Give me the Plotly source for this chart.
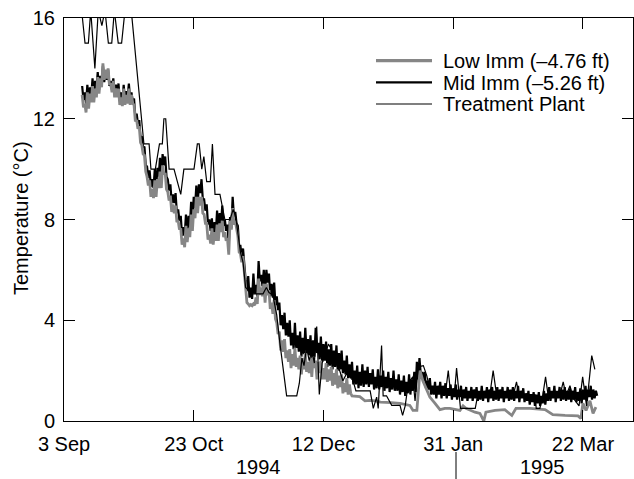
import numpy as np
import pandas as pd
import plotly.graph_objects as go

# ---------------- data ----------------
BASE_DATE = "1994-09-03"          # day 0 of the series offsets below

series_names = ["Low Imm (\u20134.76 ft)", "Mid Imm (\u20135.26 ft)", "Treatment Plant"]

x_tick_days = [0, 50, 100, 150, 200]
x_tick_labels = ["3 Sep", "23 Oct", "12 Dec", "31 Jan", "22 Mar"]
y_tick_vals = [0, 4, 8, 12, 16]
year_labels = ["1994", "1995"]

# Mid Imm: daily high / low readings, starting at day 7 (10 Sep 1994)
mid_first_day = 7
mid_high = [
    13.3, 13.05, 13.35, 13.25, 13.6, 13.5, 13.85, 13.7, 14.1, 13.85,
    13.95, 13.5, 13.6, 13.35, 13.4, 13.05, 13.35, 13.1, 13.4, 13.05,
    12.8, 12.2, 11.95, 11.3, 10.9, 10.1, 9.95, 9.6, 10.0, 10.05,
    10.45, 10.6, 10.5, 9.6, 9.4, 9.0, 9.05, 8.4, 8.15, 7.7,
    8.2, 8.15, 8.7, 8.9, 9.35, 9.4, 9.6, 8.8, 8.6, 8.0,
    8.05, 7.9, 8.35, 8.25, 8.55, 8.0, 7.8, 8.1, 8.9, 8.3,
    7.75, 6.95, 6.85, 5.6, 5.75, 5.3, 5.85, 5.4, 6.35, 5.8,
    6.0, 6.0, 5.85, 5.45, 5.5, 4.95, 4.7, 4.2, 4.3, 3.9,
    4.0, 3.5, 3.9, 3.4, 3.55, 3.3, 3.7, 3.25, 3.4, 3.2,
    3.7, 3.1, 3.35, 3.05, 3.15, 2.85, 3.05, 2.8, 3.0, 2.7,
    2.8, 2.4, 2.6, 2.25, 2.35, 2.0, 2.2, 1.95, 2.25, 2.0,
    2.15, 1.9, 2.05, 1.75, 2.05, 1.8, 2.0, 1.75, 1.95, 1.7,
    2.0, 1.65, 1.85, 1.6, 1.8, 1.55, 1.85, 1.65, 1.95, 2.35,
    2.5, 1.95, 1.95, 1.6, 1.7, 1.4, 1.55, 1.4, 1.55, 1.4,
    1.5, 1.3, 1.45, 1.3, 1.45, 1.25, 1.4, 1.25, 1.35, 1.2,
    1.35, 1.25, 1.35, 1.2, 1.4, 1.2, 1.35, 1.25, 1.35, 1.2,
    1.35, 1.25, 1.35, 1.2, 1.35, 1.25, 1.35, 1.2, 1.4, 1.2,
    1.3, 1.1, 1.2, 1.05, 1.15, 1.05, 1.15, 1.0, 1.2, 1.1,
    1.35, 1.2, 1.4, 1.2, 1.35, 1.25, 1.35, 1.2, 1.3, 1.2,
    1.35, 1.15, 1.3, 1.25, 1.4, 1.25, 1.4, 1.25, 1.2,
]
mid_low = [
    12.75, 12.6, 12.7, 12.9, 12.95, 13.2, 13.15, 13.35, 13.45, 13.55,
    13.3, 13.15, 12.95, 13.0, 12.75, 12.7, 12.7, 12.85, 12.75, 12.7,
    12.05, 11.8, 11.25, 10.85, 10.15, 9.65, 9.3, 9.25, 9.25, 9.7,
    9.7, 10.15, 9.7, 9.15, 8.65, 8.65, 8.25, 7.95, 7.35, 7.35,
    7.45, 7.7, 7.9, 8.45, 8.55, 9.05, 8.8, 8.35, 7.8, 7.55,
    7.25, 7.45, 7.55, 7.8, 7.75, 7.55, 7.0, 7.65, 8.1, 7.85,
    6.95, 6.5, 6.05, 5.15, 4.9, 4.85, 5.05, 4.95, 5.55, 5.35,
    5.1, 5.5, 4.95, 4.9, 4.6, 4.4, 3.8, 3.65, 3.4, 3.35,
    3.0, 2.85, 2.9, 2.75, 2.55, 2.65, 2.7, 2.6, 2.4, 2.55,
    2.7, 2.45, 2.35, 2.4, 2.15, 2.2, 2.05, 2.15, 2.0, 2.05,
    1.9, 1.85, 1.7, 1.7, 1.45, 1.45, 1.3, 1.4, 1.35, 1.45,
    1.35, 1.45, 1.25, 1.3, 1.25, 1.35, 1.2, 1.3, 1.15, 1.25,
    1.2, 1.2, 1.05, 1.15, 1.0, 1.1, 1.05, 1.2, 1.15, 1.65,
    1.85, 1.6, 1.3, 1.25, 1.05, 1.05, 0.9, 1.05, 0.9, 1.0,
    0.9, 1.0, 0.85, 0.95, 0.85, 0.95, 0.8, 0.9, 0.8, 0.9,
    0.8, 0.9, 0.8, 0.85, 0.8, 0.9, 0.75, 0.9, 0.8, 0.85,
    0.8, 0.9, 0.75, 0.9, 0.8, 0.85, 0.8, 0.9, 0.75, 0.9,
    0.75, 0.8, 0.65, 0.75, 0.6, 0.7, 0.6, 0.7, 0.65, 0.8,
    0.8, 0.9, 0.75, 0.9, 0.8, 0.85, 0.8, 0.85, 0.75, 0.85,
    0.75, 0.8, 0.7, 0.85, 0.8, 0.95, 0.85, 0.9, 1.0,
]

# Low Imm: daily high / low readings from day 7 to day 110, then sparser readings
low_first_day = 7
low_high = [
    12.95, 12.6, 13.05, 13.0, 13.3, 13.2, 13.65, 13.6, 14.2, 13.95,
    14.0, 13.4, 13.5, 13.2, 13.2, 12.85, 13.2, 12.95, 13.2, 12.95,
    12.55, 11.95, 11.7, 10.95, 10.55, 9.7, 9.55, 9.2, 9.55, 9.6,
    9.9, 10.15, 9.85, 9.1, 8.95, 8.6, 8.55, 7.95, 7.65, 7.25,
    7.75, 7.65, 8.2, 8.4, 8.9, 8.9, 8.9, 8.2, 7.85, 7.4,
    7.65, 7.5, 7.8, 7.85, 7.95, 7.5, 7.25, 7.95, 8.45, 7.95,
    7.35, 6.65, 6.55, 5.1, 4.65, 4.62, 4.65, 4.9, 5.65, 5.3,
    5.45, 5.45, 5.2, 4.7, 4.8, 3.9, 3.55, 3.2, 3.25, 2.8,
    2.85, 2.65, 2.9, 2.5, 2.6, 2.5, 2.7, 2.35, 2.5, 2.55,
    2.4, 2.35, 2.4, 2.1, 2.3, 2.05, 2.15, 1.9, 2.05, 1.8,
    1.85, 1.5, 1.7, 1.45,
]
low_low = [
    12.45, 12.25, 12.4, 12.65, 12.65, 12.85, 13.0, 13.25, 13.55, 13.6,
    13.35, 13.05, 12.85, 12.85, 12.55, 12.5, 12.55, 12.6, 12.55, 12.6,
    11.9, 11.6, 11.05, 10.6, 9.9, 9.35, 8.9, 8.85, 8.9, 9.25,
    9.25, 9.8, 9.2, 8.75, 8.3, 8.25, 7.9, 7.6, 7.0, 6.9,
    7.1, 7.3, 7.55, 8.05, 8.25, 8.55, 8.25, 7.85, 7.2, 7.05,
    7.0, 7.15, 7.15, 7.5, 7.3, 7.15, 6.6, 7.6, 7.8, 7.6,
    6.7, 6.3, 5.9, 4.7, 4.58, 4.58, 4.6, 4.65, 5.0, 4.95,
    4.7, 5.0, 4.45, 4.25, 4.05, 3.45, 2.8, 2.75, 2.5, 2.35,
    2.1, 2.2, 2.15, 2.05, 1.85, 2.05, 1.95, 1.9, 1.75, 2.1,
    1.65, 1.9, 1.65, 1.65, 1.55, 1.6, 1.4, 1.45, 1.3, 1.35,
    1.1, 1.15, 1.05, 1.1,
]
low_late_days = [111, 114, 116, 118, 120, 122, 126, 129.5, 133.3, 134.5,
                 136, 137.2, 138.3, 139.9, 141, 143, 144.9, 146.8, 148.7, 152.6,
                 153.8, 154.9, 156.5, 158.4, 160.3, 161.8, 162.6, 166.1, 169.9, 172.6,
                 174.2, 179.6, 185.4, 188.4, 193.1, 198.1, 199.2, 200, 201.2, 202.7,
                 203.9, 205]
low_late_vals = [1.0, 0.97, 0.8, 0.82, 0.8, 0.75, 0.73, 0.7, 0.62, 0.42,
                 0.42, 2.0, 1.6, 1.2, 0.95, 0.7, 0.45, 0.5, 0.5, 0.42,
                 0.6, 0.5, 0.42, 0.35, 0.3, 0.0, 0.35, 0.42, 0.45, 0.22,
                 0.5, 0.5, 0.45, 0.25, 0.22, 0.2, 0.1, 0.7, 0.42, 0.8,
                 0.3, 0.55]

# Treatment Plant: (day offset, temperature)
tp_days = [6.8, 8.1, 9.4, 10.3, 11.9, 13.2, 14.6, 15.8, 17.1, 18.4,
           19.4, 20.9, 22.2, 23.5, 26.2, 30.8, 32.8, 33.5, 35.2, 36.8,
           37.9, 38.5, 39.2, 40.5, 42.4, 45, 46.2, 50.1, 51.4, 52.1,
           53.1, 53.9, 55, 56.4, 57.2, 58.2, 60.1, 62, 64, 65.2,
           66.2, 67, 68, 69, 70, 71, 72.3, 76.7, 78, 79,
           80.5, 82, 83.2, 85.8, 89.7, 90.7, 91.7, 92.5, 93.5, 94.5,
           95.5, 96.5, 97.4, 98.4, 99.5, 100.5, 101.9, 102.8, 103.8, 105,
           106, 107.5, 109, 111.4, 112.5, 118, 119.2, 120.5, 121.1, 122.4,
           123, 124.3, 126.3, 129.5, 130.5, 131.5, 132.7, 134.4, 135.3, 136.5,
           138.5, 139.8, 141, 143, 145, 147, 148.1, 149, 150.5, 151.3,
           152.2, 152.8, 158.5, 159.5, 163, 164.2, 165.4, 166.7, 173.2, 174.4,
           175.3, 181.5, 182, 183.4, 184.5, 185.6, 186.6, 191.1, 192.4, 193.5,
           195, 196.3, 198.5, 199.9, 201.4, 203.4, 204.6]
tp_vals = [16.3, 15.0, 15.0, 16.3, 14.0, 16.3, 15.7, 16.3, 15.0, 15.0,
           16.3, 15.0, 15.0, 16.3, 16.0, 11.0, 11.0, 10.0, 10.0, 11.0,
           11.0, 12.0, 12.0, 10.0, 10.0, 9.0, 10.0, 10.0, 11.0, 11.0,
           10.0, 10.5, 9.5, 9.5, 11.0, 9.0, 9.0, 8.0, 8.0, 8.4,
           8.1, 7.4, 6.7, 6.3, 5.3, 5.2, 5.05, 5.05, 5.3, 5.1,
           5.0, 4.2, 3.1, 1.0, 1.0, 1.5, 2.5, 2.2, 2.9, 2.4,
           2.8, 2.3, 3.75, 1.05, 2.3, 2.6, 3.05, 2.9, 2.3, 2.4,
           2.1, 1.6, 1.9, 1.6, 1.2, 1.2, 0.5, 0.95, 0.5, 3.0,
           1.0, 1.0, 0.62, 0.62, 0.22, 0.6, 1.5, 1.75, 0.8, 2.15,
           2.2, 1.8, 1.3, 1.2, 1.1, 1.1, 2.0, 1.1, 1.1, 2.1,
           1.0, 0.5, 0.5, 1.05, 1.05, 1.1, 2.0, 1.05, 1.05, 1.55,
           1.05, 1.05, 0.5, 0.5, 1.0, 1.75, 1.0, 1.0, 1.55, 1.0,
           1.4, 0.9, 0.6, 1.75, 0.6, 2.6, 2.05]

# ---------------- helpers ----------------
base = pd.Timestamp(BASE_DATE)


def to_dates(days):
    return base + pd.to_timedelta(np.asarray(days, dtype=float), unit="D")


def interleave(first_day, highs, lows):
    """Order the daily high (morning slot) and low (evening slot) readings in time."""
    days, vals = [], []
    for i, (hi, lo) in enumerate(zip(highs, lows)):
        days += [first_day + i, first_day + i + 0.5]
        vals += [hi, lo]
    return days, vals


mid_days, mid_vals = interleave(mid_first_day, mid_high, mid_low)
low_days, low_vals = interleave(low_first_day, low_high, low_low)
low_days += low_late_days
low_vals += low_late_vals

FONT = "Liberation Sans, Arial, Helvetica, sans-serif"
GRAY = "#868686"

fig = go.Figure()
fig.add_trace(go.Scatter(x=to_dates(mid_days), y=mid_vals, mode="lines",
                         name=series_names[1], line=dict(color="black", width=2.2)))
fig.add_trace(go.Scatter(x=to_dates(low_days), y=low_vals, mode="lines",
                         name=series_names[0], line=dict(color=GRAY, width=2.8)))
fig.add_trace(go.Scatter(x=to_dates(tp_days), y=tp_vals, mode="lines",
                         name=series_names[2], line=dict(color="black", width=1.2)))

# plot-area geometry in pixels (for the hand-drawn legend and year labels)
W, H = 634, 479
ML, MR, MT, MB = 64, 1, 18, 58
PW, PH = W - ML - MR, H - MT - MB


def px(xpix):
    return (xpix - ML) / PW


def py(ypix):
    return (H - MB - ypix) / PH


axis_common = dict(showline=True, linecolor="black", linewidth=1, mirror="ticks",
                   ticks="inside", ticklen=11, tickwidth=1, tickcolor="black",
                   showgrid=False, zeroline=False,
                   tickfont=dict(family=FONT, size=20, color="black"))

fig.update_layout(
    width=W, height=H,
    margin=dict(l=ML, r=MR, t=MT, b=MB, pad=0),
    paper_bgcolor="white", plot_bgcolor="white",
    showlegend=False,
    font=dict(family=FONT, size=20, color="black"),
    xaxis=dict(type="date",
               range=[to_dates([0])[0], to_dates([219.3])[0]],
               tickvals=list(to_dates(x_tick_days)), ticktext=x_tick_labels,
               ticklabelstandoff=5, **axis_common),
    yaxis=dict(range=[0, 16], tickvals=y_tick_vals,
               ticktext=[str(v) for v in y_tick_vals],
               ticklabelstandoff=4, **axis_common),
)

# y-axis title
fig.add_annotation(text="Temperature (\u00b0C)", xref="paper", yref="paper",
                   x=px(21), y=py(218), textangle=-90, showarrow=False,
                   xanchor="center", yanchor="middle",
                   font=dict(family=FONT, size=20, color="black"))

# year labels and separator
for lab, xp in zip(year_labels, [258, 542]):
    fig.add_annotation(text=lab, xref="paper", yref="paper", x=px(xp), y=py(467),
                       showarrow=False, xanchor="center", yanchor="middle",
                       font=dict(family=FONT, size=20, color="black"))
fig.add_shape(type="line", xref="paper", yref="paper",
              x0=px(456), x1=px(456), y0=py(452), y1=py(479),
              line=dict(color="black", width=1))

# hand-drawn legend
legend_styles = [(GRAY, 3.3, 60.7), ("black", 2.3, 82.3), ("black", 1.2, 104)]
for name, (col, wid, ypix) in zip(series_names, legend_styles):
    fig.add_shape(type="line", xref="paper", yref="paper",
                  x0=px(376), x1=px(432), y0=py(ypix), y1=py(ypix),
                  line=dict(color=col, width=wid))
    fig.add_annotation(text=name, xref="paper", yref="paper",
                       x=px(441), y=py(ypix + 0.5), showarrow=False,
                       xanchor="left", yanchor="middle",
                       font=dict(family=FONT, size=20, color="black"))

fig.write_html("out.html")
